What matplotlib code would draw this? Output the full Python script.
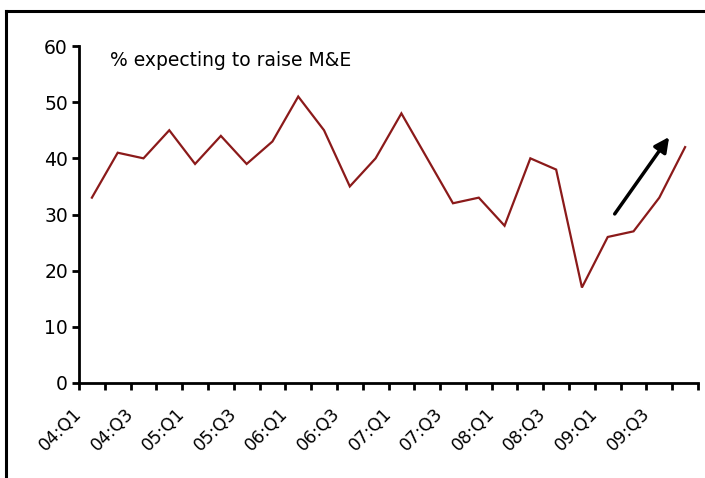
import matplotlib
matplotlib.use("Agg")
import matplotlib.pyplot as plt
from matplotlib.lines import Line2D
from matplotlib.transforms import ScaledTranslation

quarters = [f"{y:02d}:Q{q}" for y in range(4, 10) for q in range(1, 5)]
values = [33, 41, 40, 45, 39, 44, 39, 43, 51, 45, 35, 40,
          48, 40, 32, 33, 28, 40, 38, 17, 26, 27, 33, 42]
yticks = [0, 10, 20, 30, 40, 50, 60]
title_text = "% expecting to raise M&E"

fig = plt.figure(figsize=(7.05, 4.78), dpi=100)
ax = fig.add_axes([79/705, 1-383/478, (698-79)/705, (383-46)/478])

x = list(range(len(values)))
ax.plot(x, values, color="#8B1A1A", lw=1.6, solid_joinstyle="miter")

ax.set_xlim(-0.5, len(values) - 0.5)
ax.set_ylim(0, 60)
ax.set_yticks(yticks)
ax.set_yticklabels([str(t) for t in yticks], fontsize=13.5)
ax.set_xticks([i - 0.5 for i in range(len(values) + 1)], minor=True)
ax.set_xticks(x[::2])
ax.set_xticklabels(quarters[::2], rotation=45, ha="right", va="top",
                   rotation_mode="anchor", fontsize=12.5)
ax.tick_params(axis="x", which="major", length=0, pad=12)
ax.tick_params(axis="x", which="minor", length=5, width=2, direction="out")
ax.tick_params(axis="y", length=5, width=2, direction="out", pad=3)
off = ScaledTranslation(-19/100, -5/100, fig.dpi_scale_trans)
for lab in ax.get_xticklabels():
    lab.set_transform(lab.get_transform() + off)
for s in ["top", "right"]:
    ax.spines[s].set_visible(False)
for s in ["left", "bottom"]:
    ax.spines[s].set_linewidth(2)

ax.text(0.7, 57.5, title_text, fontsize=13.5, ha="left", va="center")

ax.annotate("", xy=(22.38, 43.8), xytext=(20.27, 30.1),
            arrowprops=dict(arrowstyle="-|>", color="black", lw=2.5,
                            mutation_scale=22, shrinkA=0, shrinkB=0))

fig.add_artist(Line2D([6/705, 6/705], [0, 1-11/478], color="black", lw=2.2,
                      transform=fig.transFigure))
fig.add_artist(Line2D([6/705, 1], [1-11/478, 1-11/478], color="black", lw=2.2,
                      transform=fig.transFigure))

fig.savefig("out.png", dpi=100)
